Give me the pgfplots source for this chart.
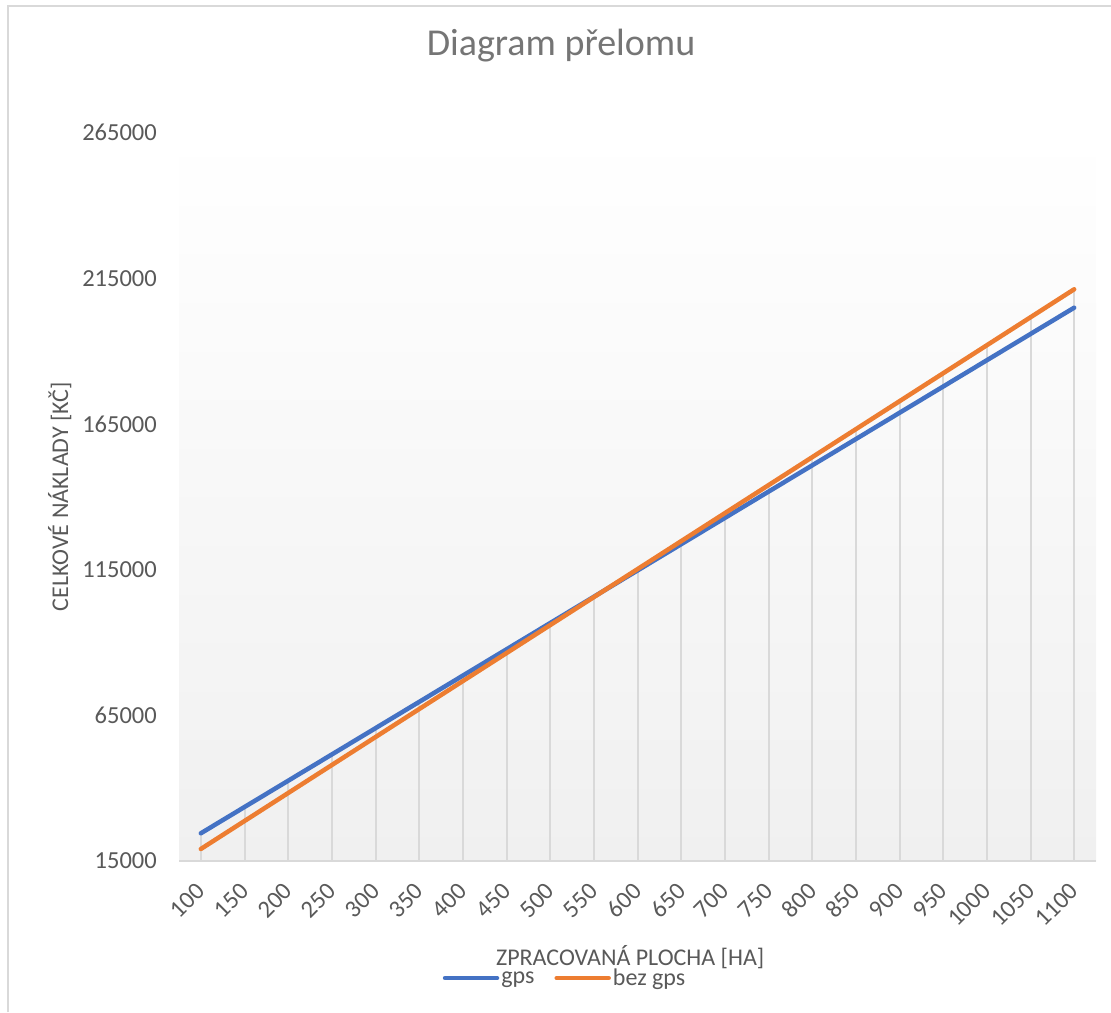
\documentclass[border=0pt]{standalone}
\usepackage{pgfplots}
\usepackage{pgfplotstable}
\pgfplotsset{compat=1.18}
\usepackage{fontspec}
\setmainfont{Carlito}
\definecolor{gpsblue}{HTML}{4472C4}
\definecolor{bezorange}{HTML}{ED7D31}
\definecolor{txt}{HTML}{595959}
\definecolor{ttl}{HTML}{757575}
\definecolor{gridc}{HTML}{D9D9D9}
\definecolor{bgbot}{HTML}{F0F0F0}

\pgfplotstableread{
x gps bez
0 24510 19120
1 33531 28727
2 42552 38333
3 51573 47940
4 60594 57546
5 69615 67153
6 78636 76759
7 87657 86366
8 96678 95972
9 105699 105579
10 114720 115185
11 123741 124792
12 132762 134398
13 141783 144005
14 150804 153611
15 159825 163218
16 168846 172824
17 177867 182431
18 186888 192037
19 195909 201644
20 204930 211250
}\data

\begin{document}
\begin{tikzpicture}
\path[use as bounding box] (0,0) rectangle (1111pt,1012pt);
\draw[gridc, line width=1.5pt] (8pt,0pt) -- (8pt,1006pt) -- (1111pt,1006pt);
\begin{axis}[
  at={(179pt,151pt)}, anchor=south west,
  scale only axis, width=917pt, height=728.3pt,
  xmin=-0.5, xmax=20.5, ymin=15000, ymax=265000,
  scaled y ticks=false, scaled x ticks=false,
  axis background/.style={top color=white, bottom color=bgbot},
  axis x line*=bottom, axis y line*=left,
  x axis line style={draw=gridc, line width=2pt, -},
  y axis line style={draw=none},
  major tick length=0pt, tick style={draw=none},
  xtick={0,1,...,20},
  xticklabels={100,150,200,250,300,350,400,450,500,550,600,650,700,750,800,850,900,950,1000,1050,1100},
  ytick={15000,65000,115000,165000,215000,265000},
  yticklabels={15000,65000,115000,165000,215000,265000},
  /pgf/number format/assume math mode=true,
  tick label style={font=\fontsize{24.5}{29}\selectfont, text=txt},
  xticklabel style={rotate=45, anchor=east, inner sep=0pt},
  xticklabel shift=26pt,
  yticklabel style={anchor=east, inner sep=0pt},
  yticklabel shift=22pt,
  title={Diagram přelomu},
  title style={at={(axis description cs:0.4166,1.0971)}, anchor=base, font=\fontsize{38}{46}\selectfont, text=ttl},
  xlabel={ZPRACOVANÁ PLOCHA [HA]},
  xlabel style={at={(axis description cs:0.492,-0.1428)}, anchor=base, font=\fontsize{24}{29}\selectfont, text=txt},
  ylabel={CELKOVÉ NÁKLADY [KČ]},
  ylabel style={at={(axis description cs:-0.121,0.5)}, anchor=base, font=\fontsize{24}{29}\selectfont, text=txt},
  legend columns=2,
  legend style={at={(axis description cs:0.421,-0.1607)}, anchor=center, draw=none, fill=none,
    font=\fontsize{24}{29}\selectfont, text=txt, inner sep=0pt,
    nodes={inner sep=2pt},
    /tikz/every even column/.append style={column sep=18pt}},
  legend image code/.code={\draw[#1, line width=4.5pt, line cap=round] (0pt,0pt) -- (52pt,0pt);},
]
\addplot[ycomb, draw=gridc, line width=2pt, forget plot] table[x=x,y=gps]{\data};
\addplot[ycomb, draw=gridc, line width=2pt, forget plot] table[x=x,y=bez]{\data};
\addplot[gpsblue, line width=4.5pt, line cap=round, line join=round] table[x=x,y=gps]{\data};
\addlegendentry{gps}
\addplot[bezorange, line width=4.5pt, line cap=round, line join=round] table[x=x,y=bez]{\data};
\addlegendentry{bez gps}
\end{axis}
\end{tikzpicture}
\end{document}
